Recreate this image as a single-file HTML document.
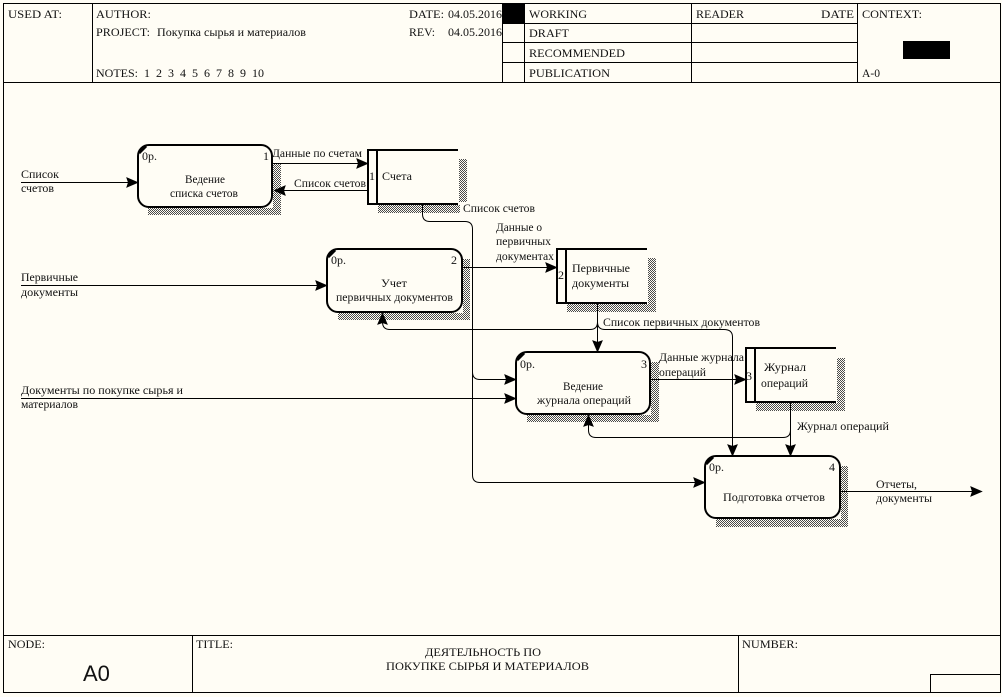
<!DOCTYPE html>
<html><head><meta charset="utf-8"><style>
html,body{margin:0;padding:0;background:#fffdf5}
svg{display:block}
text{font-family:"Liberation Serif","Noto Serif CJK SC",serif;font-size:12px;fill:#111}
</style></head><body>
<svg width="1002" height="697" viewBox="0 0 1002 697" xmlns="http://www.w3.org/2000/svg">
<defs>
<pattern id="d" width="2" height="2" patternUnits="userSpaceOnUse"><rect width="2" height="2" fill="#fffdf5"/><rect width="1" height="1" fill="#4a4a4a"/><rect x="1" y="1" width="1" height="1" fill="#4a4a4a"/></pattern>
<g id="ar"><path d="M-11,-4.5 L-0.5,0 L-11,4.5 L-9.5,0 Z" fill="#000" stroke="#000" stroke-width="1"/></g>
</defs>
<rect width="1002" height="697" fill="#fffdf5"/>
<g fill="none" stroke="#000" stroke-width="1" shape-rendering="crispEdges">
<rect x="3.5" y="3.5" width="997" height="689"/>
<path d="M3,82.5H1000M3,635.5H1000M92.5,3V82M502.5,3V82M524.5,3V82M691.5,3V82M857.5,3V82M503,23.5H857M503,42.5H857M503,62.5H857M192.5,635V692M738.5,635V692M930.5,692V674.5H1000"/>
</g>
<rect x="503" y="4" width="21" height="19" fill="#000"/>
<rect x="903" y="41" width="47" height="18" fill="#000"/>

<!-- header text -->
<text x="8" y="18" textLength="54" lengthAdjust="spacingAndGlyphs">USED AT:</text>
<text x="96" y="18" textLength="55" lengthAdjust="spacingAndGlyphs">AUTHOR:</text>
<text x="96" y="36" textLength="54" lengthAdjust="spacingAndGlyphs">PROJECT:</text>
<text x="157" y="36" textLength="149" lengthAdjust="spacingAndGlyphs">Покупка сырья и материалов</text>
<text x="96" y="77" textLength="42" lengthAdjust="spacingAndGlyphs">NOTES:</text>
<text x="144" y="77">1</text><text x="156" y="77">2</text><text x="168" y="77">3</text><text x="180" y="77">4</text><text x="192" y="77">5</text><text x="204" y="77">6</text><text x="216" y="77">7</text><text x="228" y="77">8</text><text x="240" y="77">9</text><text x="252" y="77">10</text>
<text x="409" y="18" textLength="35" lengthAdjust="spacingAndGlyphs">DATE:</text>
<text x="448" y="18" textLength="54" lengthAdjust="spacingAndGlyphs">04.05.2016</text>
<text x="409" y="36" textLength="26" lengthAdjust="spacingAndGlyphs">REV:</text>
<text x="448" y="36" textLength="54" lengthAdjust="spacingAndGlyphs">04.05.2016</text>
<text x="529" y="18" textLength="58" lengthAdjust="spacingAndGlyphs">WORKING</text>
<text x="529" y="37" textLength="40" lengthAdjust="spacingAndGlyphs">DRAFT</text>
<text x="529" y="57" textLength="96" lengthAdjust="spacingAndGlyphs">RECOMMENDED</text>
<text x="529" y="77" textLength="81" lengthAdjust="spacingAndGlyphs">PUBLICATION</text>
<text x="696" y="18" textLength="48" lengthAdjust="spacingAndGlyphs">READER</text>
<text x="821" y="18" textLength="33" lengthAdjust="spacingAndGlyphs">DATE</text>
<text x="862" y="18" textLength="60" lengthAdjust="spacingAndGlyphs">CONTEXT:</text>
<text x="862" y="77" textLength="18" lengthAdjust="spacingAndGlyphs">A-0</text>

<!-- footer text -->
<text x="8" y="648" textLength="37" lengthAdjust="spacingAndGlyphs">NODE:</text>
<text x="83" y="681" style="font-family:'Liberation Sans',sans-serif;font-size:22px">A0</text>
<text x="196" y="648" textLength="37" lengthAdjust="spacingAndGlyphs">TITLE:</text>
<text x="425" y="656" textLength="116" lengthAdjust="spacingAndGlyphs">ДЕЯТЕЛЬНОСТЬ ПО</text>
<text x="386" y="670" textLength="203" lengthAdjust="spacingAndGlyphs">ПОКУПКЕ СЫРЬЯ И МАТЕРИАЛОВ</text>
<text x="742" y="648" textLength="56" lengthAdjust="spacingAndGlyphs">NUMBER:</text>

<!-- shadows -->
<g fill="url(#d)" shape-rendering="crispEdges">
<path d="M273,163H281V215H148V208H273Z"/>
<path d="M459,159H467V202H459Z"/>
<path d="M378,205H460V213H378Z"/>
<path d="M463,259H470V320H338V313H463Z"/>
<path d="M648,258H656V312H567V304H648Z"/>
<path d="M651,362H659V422H527V415H651Z"/>
<path d="M837,358H845V411H756V403H837Z"/>
<path d="M841,466H848V527H716V519H841Z"/>
</g>

<!-- activity boxes -->
<g fill="#fffdf5" stroke="#000" stroke-width="2">
<rect x="138" y="145" width="134" height="62" rx="11"/>
<rect x="327" y="249" width="135" height="63" rx="11"/>
<rect x="516" y="352" width="134" height="62" rx="11"/>
<rect x="705" y="456" width="135" height="62" rx="11"/>
</g>
<g stroke="#000" stroke-width="3" fill="none">
<path d="M139,153L146,146M328,257L335,250M517,360L524,353M706,464L713,457"/>
</g>

<!-- stores -->
<g fill="none" stroke="#000" stroke-width="2" shape-rendering="crispEdges">
<path d="M458,150H368V204H458M377,150V204"/>
<path d="M647,249H557V303H647M566,249V303"/>
<path d="M836,348H746V402H836M755,348V402"/>
</g>

<!-- connectors -->
<g fill="none" stroke="#000" stroke-width="1">
<path d="M21,182.5H130"/>
<path d="M21,285.5H320"/>
<path d="M21,398.5H510"/>
<path d="M272,163.5H362"/>
<path d="M368,190.5H282"/>
<path d="M462,267.5H550"/>
<path d="M650,379.5H740"/>
<path d="M840,491.5H976"/>
<path d="M422.5,204V214Q422.5,221.5 430,221.5H465Q472.5,221.5 472.5,229V475Q472.5,482.5 480,482.5H700"/>
<path d="M472.5,372Q472.5,379.5 480,379.5H510"/>
<path d="M597.5,303V346"/>
<path d="M597.5,322Q597.5,329.5 590,329.5H390Q382.5,329.5 382.5,322V318"/>
<path d="M597.5,322Q597.5,329.5 605,329.5H724Q732.5,329.5 732.5,337V450"/>
<path d="M790.5,402V430Q790.5,437.5 783,437.5H596Q588.5,437.5 588.5,430V420"/>
<path d="M790.5,430V450"/>
</g>

<!-- arrowheads -->
<use href="#ar" transform="translate(138,182.5)"/>
<use href="#ar" transform="translate(327,285.5)"/>
<use href="#ar" transform="translate(516,398.5)"/>
<use href="#ar" transform="translate(516,379.5)"/>
<use href="#ar" transform="translate(368,163.5)"/>
<use href="#ar" transform="translate(274,190.5) rotate(180)"/>
<use href="#ar" transform="translate(557,267.5)"/>
<use href="#ar" transform="translate(746,379.5)"/>
<use href="#ar" transform="translate(982,491.5)"/>
<use href="#ar" transform="translate(705,482.5)"/>
<use href="#ar" transform="translate(597.5,352) rotate(90)"/>
<use href="#ar" transform="translate(732.5,456) rotate(90)"/>
<use href="#ar" transform="translate(790.5,456) rotate(90)"/>
<use href="#ar" transform="translate(382.5,313) rotate(-90)"/>
<use href="#ar" transform="translate(588.5,415) rotate(-90)"/>

<!-- diagram labels -->
<text x="21" y="178" textLength="38" lengthAdjust="spacingAndGlyphs">Список</text>
<text x="21" y="192" textLength="33" lengthAdjust="spacingAndGlyphs">счетов</text>
<text x="142" y="160">0р.</text>
<text x="263" y="160">1</text>
<text x="185" y="183" textLength="40" lengthAdjust="spacingAndGlyphs">Ведение</text>
<text x="170" y="197" textLength="68" lengthAdjust="spacingAndGlyphs">списка счетов</text>
<text x="272" y="157" textLength="90" lengthAdjust="spacingAndGlyphs">Данные по счетам</text>
<text x="294" y="187" textLength="72" lengthAdjust="spacingAndGlyphs">Список счетов</text>
<text x="369" y="180">1</text>
<text x="382" y="180" textLength="30" lengthAdjust="spacingAndGlyphs">Счета</text>
<text x="463" y="212" textLength="72" lengthAdjust="spacingAndGlyphs">Список счетов</text>
<text x="496" y="231" textLength="46" lengthAdjust="spacingAndGlyphs">Данные о</text>
<text x="496" y="245" textLength="55" lengthAdjust="spacingAndGlyphs">первичных</text>
<text x="496" y="260" textLength="58" lengthAdjust="spacingAndGlyphs">документах</text>
<text x="21" y="281" textLength="57" lengthAdjust="spacingAndGlyphs">Первичные</text>
<text x="21" y="296" textLength="57" lengthAdjust="spacingAndGlyphs">документы</text>
<text x="331" y="264">0р.</text>
<text x="451" y="264">2</text>
<text x="381" y="287" textLength="26" lengthAdjust="spacingAndGlyphs">Учет</text>
<text x="336" y="301" textLength="117" lengthAdjust="spacingAndGlyphs">первичных документов</text>
<text x="558" y="279">2</text>
<text x="572" y="272" textLength="58" lengthAdjust="spacingAndGlyphs">Первичные</text>
<text x="572" y="287" textLength="57" lengthAdjust="spacingAndGlyphs">документы</text>
<text x="603" y="326" textLength="157" lengthAdjust="spacingAndGlyphs">Список первичных документов</text>
<text x="520" y="368">0р.</text>
<text x="641" y="368">3</text>
<text x="563" y="390" textLength="40" lengthAdjust="spacingAndGlyphs">Ведение</text>
<text x="537" y="404" textLength="94" lengthAdjust="spacingAndGlyphs">журнала операций</text>
<text x="659" y="361" textLength="85" lengthAdjust="spacingAndGlyphs">Данные журнала</text>
<text x="659" y="376" textLength="47" lengthAdjust="spacingAndGlyphs">операций</text>
<text x="746" y="380">3</text>
<text x="764" y="371" textLength="42" lengthAdjust="spacingAndGlyphs">Журнал</text>
<text x="761" y="387" textLength="47" lengthAdjust="spacingAndGlyphs">операций</text>
<text x="21" y="394" textLength="162" lengthAdjust="spacingAndGlyphs">Документы по покупке сырья и</text>
<text x="21" y="408" textLength="57" lengthAdjust="spacingAndGlyphs">материалов</text>
<text x="797" y="430" textLength="92" lengthAdjust="spacingAndGlyphs">Журнал операций</text>
<text x="709" y="471">0р.</text>
<text x="829" y="471">4</text>
<text x="723" y="501" textLength="102" lengthAdjust="spacingAndGlyphs">Подготовка отчетов</text>
<text x="876" y="488" textLength="41" lengthAdjust="spacingAndGlyphs">Отчеты,</text>
<text x="876" y="502" textLength="56" lengthAdjust="spacingAndGlyphs">документы</text>
</svg>
</body></html>
